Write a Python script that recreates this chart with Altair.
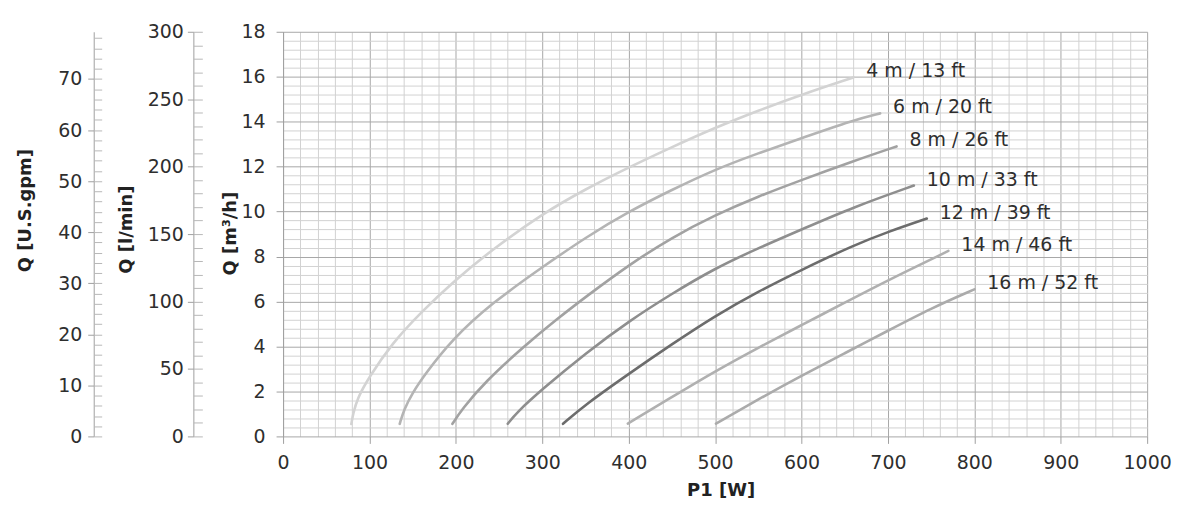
import altair as alt
import pandas as pd

# ---------------- data ----------------
series = ["4 m / 13 ft", "6 m / 20 ft", "8 m / 26 ft", "10 m / 33 ft",
          "12 m / 39 ft", "14 m / 46 ft", "16 m / 52 ft"]
colors = ["#d3d3d3", "#b4b4b4", "#a2a2a2", "#8e8e8e", "#6c6c6c", "#b0b0b0", "#ababab"]

p_4m = [79, 81, 86, 99, 126, 160, 199, 241, 299, 350, 399, 450, 499, 550, 601, 660]
q_4m = [0.55, 1.0, 1.7, 2.6, 4.14, 5.54, 6.95, 8.28, 9.88, 11.0, 11.95, 12.87, 13.72, 14.5, 15.22, 15.97]

p_6m = [135, 140, 150, 164, 195, 241, 303, 350, 401, 450, 499, 550, 601, 660, 691]
q_6m = [0.56, 1.2, 1.95, 2.75, 4.29, 5.92, 7.61, 8.85, 10.02, 10.97, 11.86, 12.6, 13.28, 14.07, 14.37]

p_8m = [196, 207, 233, 280, 318, 350, 401, 450, 499, 550, 601, 660, 710]
q_8m = [0.56, 1.2, 2.4, 4.05, 5.25, 6.2, 7.65, 8.85, 9.83, 10.68, 11.42, 12.25, 12.9]

p_10m = [260, 270, 299, 350, 401, 450, 499, 549, 601, 660, 730]
q_10m = [0.56, 1.05, 2.07, 3.7, 5.15, 6.35, 7.46, 8.36, 9.22, 10.2, 11.16]

p_12m = [324, 350, 401, 450, 499, 550, 601, 660, 700, 745]
q_12m = [0.56, 1.42, 2.81, 4.1, 5.34, 6.45, 7.43, 8.5, 9.1, 9.69]

p_14m = [399, 450, 500, 550, 600, 650, 700, 770]
q_14m = [0.57, 1.75, 2.9, 3.95, 4.95, 5.95, 6.95, 8.25]

p_16m = [501, 550, 600, 650, 700, 750, 800]
q_16m = [0.57, 1.65, 2.7, 3.7, 4.7, 5.7, 6.54]

x_ticks = [0, 100, 200, 300, 400, 500, 600, 700, 800, 900, 1000]
y_ticks = [0, 2, 4, 6, 8, 10, 12, 14, 16, 18]
lmin_ticks = [0, 50, 100, 150, 200, 250, 300]
gpm_ticks = [0, 10, 20, 30, 40, 50, 60, 70]

P_all = [p_4m, p_6m, p_8m, p_10m, p_12m, p_14m, p_16m]
Q_all = [q_4m, q_6m, q_8m, q_10m, q_12m, q_14m, q_16m]

rows = []
for name, ps, qs in zip(series, P_all, Q_all):
    for p, q in zip(ps, qs):
        rows.append({"curve": name, "P": p, "Q": q})
df = pd.DataFrame(rows)
ends = df.groupby("curve", sort=False).tail(1).reset_index(drop=True)

# ---------------- layout / style ----------------
W, H = 867, 406
FONT = "DejaVu Sans"
TXT = "#2e2e2e"
AX = "#a0a0a0"
GPM_MAX = 18 * 4.4029
LMIN_MAX = 300

x_minor = [i * 20 for i in range(51) if i % 5 != 0]
y_minor = [round(i * 0.4, 2) for i in range(46) if i % 5 != 0]
gpm_minor = [i * 2 for i in range(40)]
lmin_minor = [i * 10 for i in range(31)]

xscale = alt.Scale(domain=[0, 1000], nice=False, zero=False)
yscale = alt.Scale(domain=[0, 18], nice=False, zero=False)

# minor grid
minor = alt.Chart(df).mark_point(opacity=0).encode(
    x=alt.X("P:Q", scale=xscale,
            axis=alt.Axis(orient="bottom", values=x_minor, grid=True, gridColor="#d2d2d2",
                          gridWidth=1, labels=False, ticks=False, domain=False, title=None)),
    y=alt.Y("Q:Q", scale=yscale,
            axis=alt.Axis(orient="left", values=y_minor, grid=True, gridColor="#d2d2d2",
                          gridWidth=1, labels=False, ticks=False, domain=False, title=None)),
)

# curves + main axes (major grid)
lines = alt.Chart(df).mark_line(strokeWidth=2.6, strokeCap="round", interpolate="basis").encode(
    x=alt.X("P:Q", scale=xscale,
            axis=alt.Axis(orient="bottom", values=x_ticks, format="d", grid=True,
                          gridColor="#a8a8a8", tickColor=AX, tickSize=7, domain=False,
                          labelFlush=False, labelFont=FONT, labelFontSize=19, labelColor=TXT,
                          labelPadding=10, title="P1 [W]", titleFont=FONT, titleFontSize=18,
                          titleFontWeight="bold", titleColor="#222222", titleX=439, titleY=54,
                          titleBaseline="middle")),
    y=alt.Y("Q:Q", scale=yscale,
            axis=alt.Axis(orient="left", values=y_ticks, grid=True, gridColor="#a8a8a8",
                          tickColor=AX, tickSize=7, domainColor=AX, labelFont=FONT,
                          labelFontSize=19, labelColor=TXT, labelPadding=11,
                          title="Q [m³/h]", titleFont=FONT, titleFontSize=18,
                          titleFontWeight="bold", titleColor="#222222", titleAngle=270,
                          titleAlign="center", titleBaseline="middle", titleX=-53, titleY=202)),
    color=alt.Color("curve:N", scale=alt.Scale(domain=series, range=colors), legend=None),
)

labels = alt.Chart(ends).mark_text(align="left", baseline="middle", dx=13, dy=-6,
                                   font=FONT, fontSize=19, color=TXT).encode(
    x=alt.X("P:Q", scale=xscale, axis=None),
    y=alt.Y("Q:Q", scale=yscale, axis=None),
    text="curve:N",
)

gpm_df = pd.DataFrame({"v": [0, GPM_MAX]})
lmin_df = pd.DataFrame({"v": [0, LMIN_MAX]})
gscale = alt.Scale(domain=[0, GPM_MAX], nice=False, zero=False)
lscale = alt.Scale(domain=[0, LMIN_MAX], nice=False, zero=False)

gpm_major = alt.Chart(gpm_df).mark_point(opacity=0).encode(
    y=alt.Y("v:Q", scale=gscale,
            axis=alt.Axis(orient="left", offset=190, values=gpm_ticks, tickSize=6, tickColor=AX,
                          domainColor=AX, grid=False, labelFont=FONT, labelFontSize=19,
                          labelColor=TXT, labelPadding=6,
                          title="Q [U.S.gpm]", titleFont=FONT, titleFontSize=18,
                          titleFontWeight="bold", titleColor="#222222", titleAngle=270,
                          titleAlign="center", titleBaseline="middle", titleX=-68, titleY=179)))
gpm_min = alt.Chart(gpm_df).mark_point(opacity=0).encode(
    y=alt.Y("v:Q", scale=gscale,
            axis=alt.Axis(orient="right", offset=-(W + 190), values=gpm_minor, tickSize=8,
                          tickColor="#b8b8b8", domain=False, grid=False, labels=False, title=None)))

lmin_major = alt.Chart(lmin_df).mark_point(opacity=0).encode(
    y=alt.Y("v:Q", scale=lscale,
            axis=alt.Axis(orient="left", offset=90, values=lmin_ticks, tickSize=6, tickColor=AX,
                          domainColor=AX, grid=False, labelFont=FONT, labelFontSize=19,
                          labelColor=TXT, labelPadding=4,
                          title="Q [l/min]", titleFont=FONT, titleFontSize=18,
                          titleFontWeight="bold", titleColor="#222222", titleAngle=270,
                          titleAlign="center", titleBaseline="middle", titleX=-67, titleY=198)))
lmin_min = alt.Chart(lmin_df).mark_point(opacity=0).encode(
    y=alt.Y("v:Q", scale=lscale,
            axis=alt.Axis(orient="right", offset=-(W + 90), values=lmin_minor, tickSize=9,
                          tickColor="#b8b8b8", domain=False, grid=False, labels=False, title=None)))

chart = alt.layer(
    minor, lines, labels, gpm_major, gpm_min, lmin_major, lmin_min
).resolve_scale(
    x="independent", y="independent"
).properties(
    width=W, height=H,
    autosize=alt.AutoSizeParams(type="none"),
    padding={"left": 276, "top": 23, "right": 45, "bottom": 75},
).configure_view(stroke=None)

chart.save("out.html", embed_options={"renderer": "svg", "actions": False})
